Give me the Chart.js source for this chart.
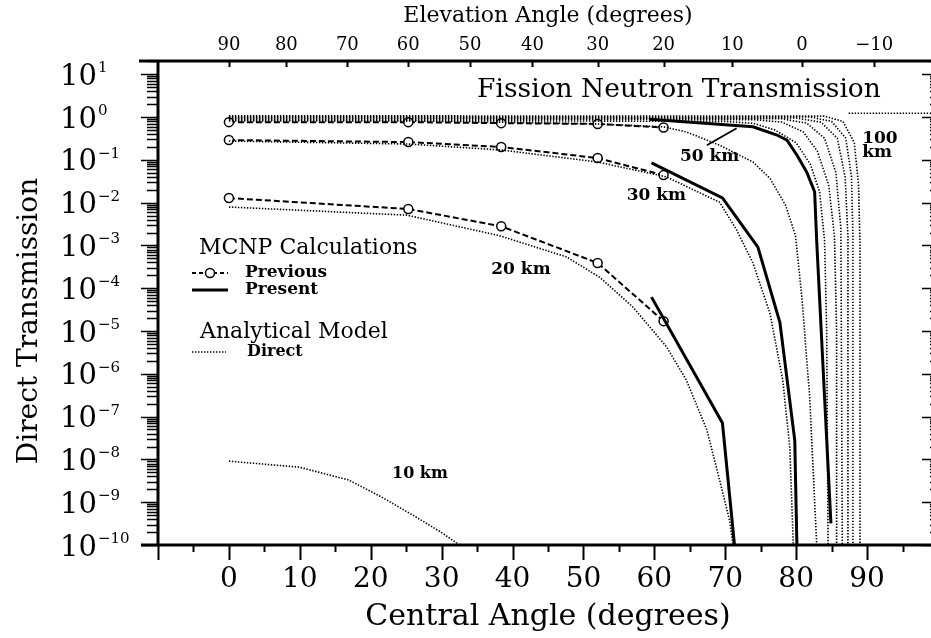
<!DOCTYPE html>
<html>
<head>
<meta charset="utf-8">
<script src="https://cdn.jsdelivr.net/npm/chart.js@4.4.0/dist/chart.umd.min.js"></script>
<style>
  html, body { margin: 0; padding: 0; background: #fff; overflow: hidden; }
  #wrap { width: 945px; height: 638px; }
</style>
</head>
<body>
<div id="wrap"><canvas id="chart" width="945" height="638"></canvas></div>
<script>
// --- axis values ---
const centralTicks = [0, 10, 20, 30, 40, 50, 60, 70, 80, 90];
const elevationLabels = [90, 80, 70, 60, 50, 40, 30, 20, 10, 0, -10];
const elevationAtCentral = [0, 8.1, 16.7, 25.3, 34.0, 42.8, 52.0, 61.3, 71.0, 80.8, 91.0];
const decadeExponents = [-10, -9, -8, -7, -6, -5, -4, -3, -2, -1, 0, 1];

// --- MCNP previous (dashed, open circles), same central angles for all three ---
const prevAngles = [0, 25.3, 38.4, 52.0, 61.3];
const prevTop = [0.76, 0.76, 0.72, 0.69, 0.57];
const prevMid = [0.29, 0.26, 0.20, 0.11, 0.044];
const prevLow = [0.0128, 0.0071, 0.0028, 3.9e-4, 1.7e-5];

// --- MCNP present (solid) ---
const pres20X = [59.6, 69.6, 71.3];
const pres20Y = [6.2e-5, 7.1e-8, 1e-10];
const pres30X = [59.6, 69.6, 74.6, 77.7, 79.8, 80.1];
const pres30Y = [0.085, 0.0129, 9.1e-4, 1.6e-5, 2.8e-8, 1e-10];
const pres50X = [59.3, 73.9, 77.3, 78.7, 80.1, 81.5, 82.6, 82.9, 84.9];
const pres50Y = [0.89, 0.59, 0.38, 0.29, 0.13, 0.051, 0.018, 1.2e-3, 3.2e-10];

// --- analytical model, direct (dotted) ---
const a10X = [0, 9.9, 16.9, 21.6, 26.4, 30.1, 32.5];
const a10Y = [9.1e-9, 6.6e-9, 3.3e-9, 1.3e-9, 4.5e-10, 1.9e-10, 1e-10];
const a20X = [0, 25.1, 38.1, 47.6, 52.3, 57.0, 61.7, 64.5, 67.4, 69.2, 70.6, 71.1];
const a20Y = [7.9e-3, 5.1e-3, 1.7e-3, 5.4e-4, 1.8e-4, 3.6e-5, 4.3e-6, 7.2e-7, 4.9e-8, 3.3e-9, 3.8e-10, 1e-10];
const a30X = [0, 25.3, 38.4, 52.0, 61.7, 69.2, 71.6, 73.9, 76.3, 78.1, 79.1, 79.6];
const a30Y = [0.275, 0.234, 0.170, 0.089, 0.040, 0.0102, 2.3e-3, 3.9e-4, 2.6e-5, 7.2e-7, 1.9e-8, 1e-10];
const a40X = [0, 25.3, 38.4, 52.0, 61.3, 64.5, 69.2, 73.9, 76.3, 78.5, 79.9, 80.8, 81.9, 82.9];
const a40Y = [0.81, 0.81, 0.76, 0.69, 0.59, 0.45, 0.22, 0.089, 0.037, 8.7e-3, 1.7e-3, 6.2e-5, 2.9e-7, 1e-10];
const a50X = [0, 70, 74, 77, 80, 82, 83.3, 84.0, 84.3, 84.5];
const a50Y = [0.85, 0.79, 0.71, 0.50, 0.25, 0.079, 0.018, 1.3e-3, 1e-5, 1e-10];
const a60X = [0, 74, 78, 81, 83, 84.6, 85.4, 85.7, 85.7];
const a60Y = [0.89, 0.87, 0.76, 0.45, 0.158, 0.025, 1.6e-3, 1e-5, 1e-10];
const a70X = [0, 78, 81.5, 84, 85.6, 86.3, 86.5];
const a70Y = [0.93, 0.91, 0.72, 0.32, 0.05, 2.5e-3, 1e-10];
const a80X = [0, 80, 83.5, 85.8, 86.9, 87.3, 87.3];
const a80Y = [0.98, 0.95, 0.76, 0.32, 0.04, 1.6e-3, 1e-10];
const a90X = [0, 82, 85, 87, 87.8, 88.0, 88.0];
const a90Y = [1.02, 1.0, 0.79, 0.32, 0.04, 1.6e-3, 1e-10];
const a100X = [0, 84, 86.6, 88.2, 88.8, 89.0, 89.0];
const a100Y = [1.07, 1.05, 0.79, 0.25, 0.025, 1e-3, 1e-10];
const topLineX = [87.4, 100];
const topLineY = [1.23, 1.23];

// pointer from the "50 km" label to the curve
const pointerX = [67.4, 71.6];
const pointerY = [0.22, 0.55];

// text placed in data coordinates
const notes = [
  { text: "Fission Neutron Transmission", x: 35.0, y: 4.3, font: "26.5px 'DejaVu Serif'" },
  { text: "50 km", x: 63.6, y: 0.117, font: "bold 17px 'DejaVu Serif'" },
  { text: "30 km", x: 56.1, y: 0.015, font: "bold 17px 'DejaVu Serif'" },
  { text: "20 km", x: 37.0, y: 2.7e-4, font: "bold 17px 'DejaVu Serif'" },
  { text: "10 km", x: 23.0, y: 4.6e-9, font: "bold 16px 'DejaVu Serif'" },
  { text: "100", x: 89.3, y: 0.32, font: "bold 17px 'DejaVu Serif'" },
  { text: "km", x: 89.3, y: 0.145, font: "bold 17px 'DejaVu Serif'" },
];

const SERIF = "'DejaVu Serif', serif";

function pts(xs, ys) {
  return xs.map((x, i) => ({ x: x, y: ys[i] }));
}

const dotted = { borderColor: "#000", borderWidth: 1.6, borderDash: [1.4, 1.6], pointRadius: 0, tension: 0, fill: false };
const dashed = { borderColor: "#000", borderWidth: 2, borderDash: [6, 3], pointRadius: 4.5, pointBorderWidth: 1.5,
  pointBorderColor: "#000", pointBackgroundColor: "#fff", tension: 0, fill: false };
const solid = { borderColor: "#000", borderWidth: 3, pointRadius: 0, tension: 0, fill: false };

const datasets = [
  { label: "A 10 km", data: pts(a10X, a10Y), ...dotted },
  { label: "A 20 km", data: pts(a20X, a20Y), ...dotted },
  { label: "A 30 km", data: pts(a30X, a30Y), ...dotted },
  { label: "A 40 km", data: pts(a40X, a40Y), ...dotted },
  { label: "A 50 km", data: pts(a50X, a50Y), ...dotted },
  { label: "A 60 km", data: pts(a60X, a60Y), ...dotted },
  { label: "A 70 km", data: pts(a70X, a70Y), ...dotted },
  { label: "A 80 km", data: pts(a80X, a80Y), ...dotted },
  { label: "A 90 km", data: pts(a90X, a90Y), ...dotted },
  { label: "A 100 km", data: pts(a100X, a100Y), ...dotted },
  { label: "A top", data: pts(topLineX, topLineY), ...dotted },
  { label: "Present 20", data: pts(pres20X, pres20Y), ...solid },
  { label: "Present 30", data: pts(pres30X, pres30Y), ...solid },
  { label: "Present 50", data: pts(pres50X, pres50Y), ...solid },
  { label: "Pointer", data: pts(pointerX, pointerY), ...solid, borderWidth: 1.8 },
  { label: "Previous top", data: pts(prevAngles, prevTop), ...dashed },
  { label: "Previous mid", data: pts(prevAngles, prevMid), ...dashed },
  { label: "Previous low", data: pts(prevAngles, prevLow), ...dashed },
];

// --- axes, tick marks, tick labels, legend and notes ---
const decorations = {
  id: "decorations",
  afterDraw(chart) {
    const { ctx, chartArea: a } = chart;
    const x = chart.scales.x;
    const y = chart.scales.y;
    ctx.save();
    ctx.strokeStyle = "#000";
    ctx.fillStyle = "#000";

    // frame
    ctx.lineWidth = 3;
    ctx.beginPath();
    ctx.moveTo(a.left - 19, a.top); ctx.lineTo(a.right, a.top);
    ctx.moveTo(a.left, a.top); ctx.lineTo(a.left, a.bottom);
    ctx.moveTo(a.left - 17, a.bottom); ctx.lineTo(a.right, a.bottom);
    ctx.moveTo(a.right, a.top); ctx.lineTo(a.right, a.bottom);
    ctx.stroke();

    // log ticks, left (outside) and right (inside)
    ctx.lineWidth = 1.6;
    ctx.beginPath();
    decadeExponents.forEach(e => {
      for (let m = 1; m <= 9; m++) {
        const v = m * Math.pow(10, e);
        if (v < y.min || v > y.max) continue;
        const py = Math.round(y.getPixelForValue(v)) + 0.5;
        const ll = m === 1 ? 17 : 11;
        const rl = m === 1 ? 16 : 8;
        ctx.moveTo(a.left - ll, py); ctx.lineTo(a.left, py);
        ctx.moveTo(a.right - rl, py); ctx.lineTo(a.right, py);
      }
    });
    ctx.stroke();

    // bottom ticks every 5 degrees
    ctx.lineWidth = 2;
    ctx.beginPath();
    for (let v = -10; v <= 100; v += 5) {
      const px = Math.round(x.getPixelForValue(v)) + 0.5;
      const len = v % 10 === 0 ? 15 : 7;
      ctx.moveTo(px, a.bottom); ctx.lineTo(px, a.bottom + len);
    }
    // top ticks at elevation angles (inside)
    elevationAtCentral.forEach(c => {
      const px = Math.round(x.getPixelForValue(c)) + 0.5;
      ctx.moveTo(px, a.top); ctx.lineTo(px, a.top + 6);
    });
    ctx.stroke();

    // bottom tick labels
    ctx.font = "28px " + SERIF;
    ctx.textAlign = "center";
    ctx.textBaseline = "middle";
    centralTicks.forEach(v => {
      ctx.fillText(String(v), x.getPixelForValue(v), a.bottom + 35);
    });

    // top tick labels
    ctx.font = "18px " + SERIF;
    elevationLabels.forEach((v, i) => {
      const t = v < 0 ? "\u2212" + (-v) : String(v);
      ctx.fillText(t, x.getPixelForValue(elevationAtCentral[i]), a.top - 16);
    });

    // y tick labels 10^n
    ctx.textAlign = "left";
    decadeExponents.forEach(e => {
      const py = y.getPixelForValue(Math.pow(10, e));
      const lx = a.left - 98;
      ctx.font = "29px " + SERIF;
      ctx.textBaseline = "middle";
      ctx.fillText("10", lx, py + 3);
      const w = ctx.measureText("10").width;
      ctx.font = "15px " + SERIF;
      ctx.textBaseline = "alphabetic";
      ctx.fillText(e < 0 ? "\u2212" + (-e) : String(e), lx + w + 1, py - 2);
    });

    // y axis title
    ctx.save();
    ctx.translate(a.left - 128, (a.top + a.bottom) / 2 + 18);
    ctx.rotate(-Math.PI / 2);
    ctx.font = "28px " + SERIF;
    ctx.textAlign = "center";
    ctx.textBaseline = "middle";
    ctx.fillText("Direct Transmission", 0, 0);
    ctx.restore();

    // notes inside the plot
    ctx.textAlign = "left";
    ctx.textBaseline = "middle";
    notes.forEach(n => {
      ctx.font = n.font;
      ctx.fillText(n.text, x.getPixelForValue(n.x), y.getPixelForValue(n.y));
    });

    // legend
    const lx = a.left + 34;
    ctx.font = "22px " + SERIF;
    ctx.fillText("MCNP Calculations", lx + 7, a.top + 187);
    ctx.fillText("Analytical Model", lx + 8, a.top + 271);
    ctx.font = "bold 17px " + SERIF;
    ctx.fillText("Previous", lx + 53, a.top + 212);
    ctx.fillText("Present", lx + 53, a.top + 229);
    ctx.font = "bold 16px " + SERIF;
    ctx.fillText("Direct", lx + 55, a.top + 291);

    ctx.lineWidth = 2;
    ctx.setLineDash([4, 3]);
    ctx.beginPath();
    ctx.moveTo(lx, a.top + 212); ctx.lineTo(lx + 36, a.top + 212);
    ctx.stroke();
    ctx.setLineDash([]);
    ctx.beginPath();
    ctx.arc(lx + 18, a.top + 212, 4.5, 0, Math.PI * 2);
    ctx.fillStyle = "#fff";
    ctx.fill();
    ctx.lineWidth = 1.5;
    ctx.stroke();
    ctx.fillStyle = "#000";

    ctx.lineWidth = 3;
    ctx.beginPath();
    ctx.moveTo(lx, a.top + 229); ctx.lineTo(lx + 36, a.top + 229);
    ctx.stroke();

    ctx.lineWidth = 1.6;
    ctx.setLineDash([1.4, 1.6]);
    ctx.beginPath();
    ctx.moveTo(lx, a.top + 291); ctx.lineTo(lx + 34, a.top + 291);
    ctx.stroke();
    ctx.restore();
  }
};

new Chart(document.getElementById("chart"), {
  type: "line",
  data: { datasets: datasets },
  options: {
    responsive: false,
    animation: false,
    devicePixelRatio: 1,
    layout: { padding: { left: 0, right: 7, top: 0, bottom: 0 } },
    plugins: { legend: { display: false }, tooltip: { enabled: false } },
    scales: {
      x: {
        type: "linear", position: "bottom", min: -10, max: 100,
        grid: { display: false }, border: { display: false }, ticks: { display: false },
        title: { display: true, text: "Central Angle (degrees)", color: "#000",
          font: { family: SERIF, size: 30 }, padding: { top: 0, bottom: 3 } },
        afterFit(s) { s.height = 93; }
      },
      xTop: {
        type: "linear", position: "top", min: -10, max: 100,
        grid: { display: false }, border: { display: false }, ticks: { display: false },
        title: { display: true, text: "Elevation Angle (degrees)", color: "#000",
          font: { family: SERIF, size: 22 }, padding: { top: 3, bottom: 0 } },
        afterFit(s) { s.height = 61; }
      },
      y: {
        type: "logarithmic", position: "left", min: 1e-10, max: 20.4,
        grid: { display: false }, border: { display: false }, ticks: { display: false },
        afterFit(s) { s.width = 158; }
      }
    }
  },
  plugins: [decorations]
});
</script>
</body>
</html>
